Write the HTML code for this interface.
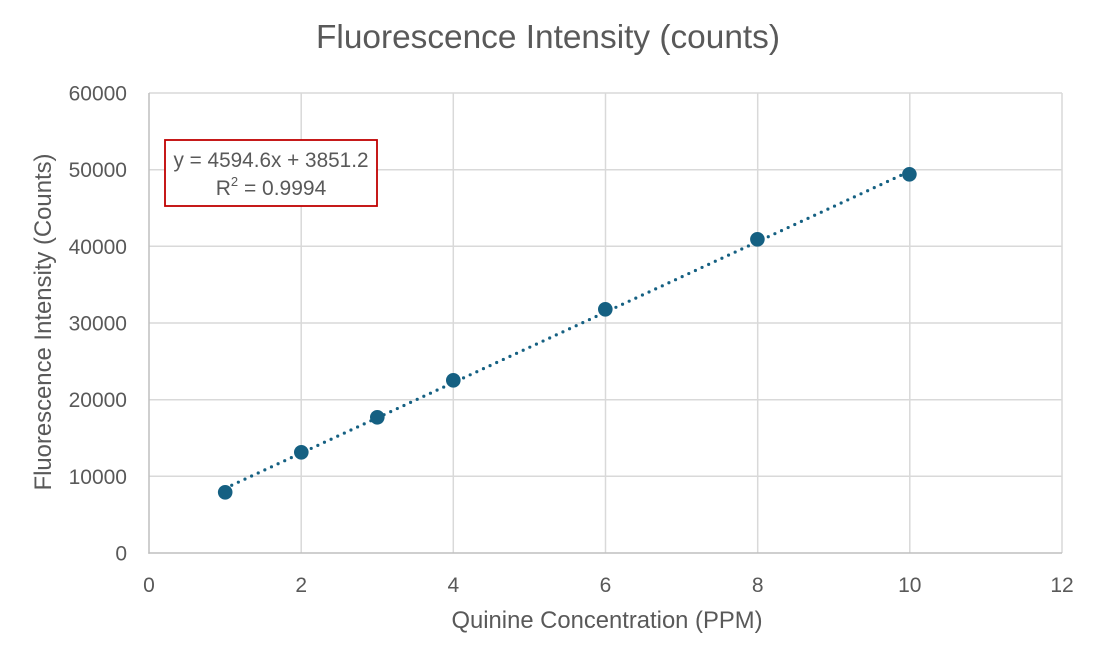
<!DOCTYPE html>
<html>
<head>
<meta charset="utf-8">
<style>
html,body{margin:0;padding:0;background:#fff;}
svg{display:block;}
text{font-family:"Liberation Sans",sans-serif;fill:#595959;}
</style>
</head>
<body>
<svg width="1097" height="666" viewBox="0 0 1097 666" xmlns="http://www.w3.org/2000/svg">
<rect width="1097" height="666" fill="#fff"/>
<!-- title -->
<text x="548" y="48" font-size="33" text-anchor="middle" textLength="464" lengthAdjust="spacingAndGlyphs">Fluorescence Intensity (counts)</text>
<!-- gridlines -->
<g stroke="#d9d9d9" stroke-width="1.5">
<line x1="149" y1="93" x2="1062" y2="93"/>
<line x1="149" y1="169.7" x2="1062" y2="169.7"/>
<line x1="149" y1="246.3" x2="1062" y2="246.3"/>
<line x1="149" y1="323" x2="1062" y2="323"/>
<line x1="149" y1="399.7" x2="1062" y2="399.7"/>
<line x1="149" y1="476.3" x2="1062" y2="476.3"/>
<line x1="301.2" y1="93" x2="301.2" y2="553"/>
<line x1="453.3" y1="93" x2="453.3" y2="553"/>
<line x1="605.5" y1="93" x2="605.5" y2="553"/>
<line x1="757.7" y1="93" x2="757.7" y2="553"/>
<line x1="909.8" y1="93" x2="909.8" y2="553"/>
<line x1="1062" y1="93" x2="1062" y2="553"/>
</g>
<g stroke="#bfbfbf" stroke-width="1.5">
<line x1="149" y1="93" x2="149" y2="553.7"/>
<line x1="148.3" y1="553" x2="1062" y2="553"/>
</g>
<!-- y tick labels -->
<g font-size="21" text-anchor="end">
<text x="127" y="100.5">60000</text>
<text x="127" y="177.2">50000</text>
<text x="127" y="253.8">40000</text>
<text x="127" y="330.5">30000</text>
<text x="127" y="407.2">20000</text>
<text x="127" y="483.8">10000</text>
<text x="127" y="560.5">0</text>
</g>
<!-- x tick labels -->
<g font-size="21" text-anchor="middle">
<text x="149" y="592">0</text>
<text x="301.2" y="592">2</text>
<text x="453.3" y="592">4</text>
<text x="605.5" y="592">6</text>
<text x="757.7" y="592">8</text>
<text x="909.8" y="592">10</text>
<text x="1062" y="592">12</text>
</g>
<!-- axis titles -->
<text x="607" y="628" font-size="24" text-anchor="middle" textLength="311" lengthAdjust="spacingAndGlyphs">Quinine Concentration (PPM)</text>
<text transform="translate(51,322) rotate(-90)" x="0" y="0" font-size="24" text-anchor="middle" textLength="337" lengthAdjust="spacingAndGlyphs">Fluorescence Intensity (Counts)</text>
<!-- trendline -->
<line x1="225.1" y1="488.3" x2="909.8" y2="171.2" stroke="#156082" stroke-width="3.2" stroke-linecap="round" stroke-dasharray="0 7.3"/>
<!-- markers -->
<g fill="#156082">
<circle cx="225.2" cy="492.3" r="7.3"/>
<circle cx="301.3" cy="452.3" r="7.3"/>
<circle cx="377.3" cy="417.3" r="7.3"/>
<circle cx="453.3" cy="380.3" r="7.3"/>
<circle cx="605.3" cy="309.3" r="7.3"/>
<circle cx="757.4" cy="239.3" r="7.3"/>
<circle cx="909.4" cy="174.3" r="7.3"/>
</g>
<!-- equation box -->
<rect x="165" y="140" width="212" height="66" fill="#fff" stroke="#c00000" stroke-width="1.8"/>
<text x="271" y="167" font-size="21" text-anchor="middle" textLength="195" lengthAdjust="spacingAndGlyphs">y = 4594.6x + 3851.2</text>
<text x="271" y="195" font-size="21" text-anchor="middle">R<tspan font-size="13" dy="-9">2</tspan><tspan dy="9"> = 0.9994</tspan></text>
</svg>
</body>
</html>
